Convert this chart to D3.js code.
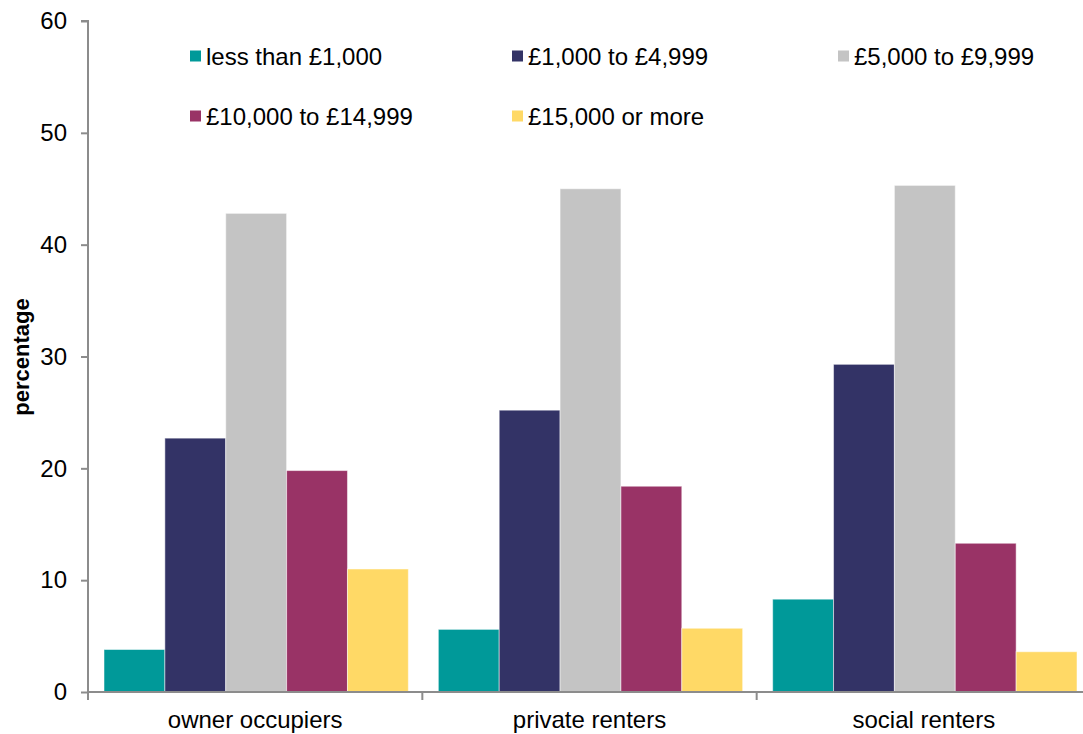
<!DOCTYPE html>
<html>
<head>
<meta charset="utf-8">
<script src="https://cdn.jsdelivr.net/npm/d3@7"></script>
<style>
  body { margin: 0; background: #fff; }
  svg { display: block; font-family: "Liberation Sans", Arial, sans-serif; }
</style>
</head>
<body>
<svg id="chart" width="1083" height="734"></svg>
<script>
// tenure groups along the x axis
var tenures = ["owner occupiers", "private renters", "social renters"];
// income bands (legend / series)
var bands = ["less than £1,000", "£1,000 to £4,999", "£5,000 to £9,999", "£10,000 to £14,999", "£15,000 or more"];
var bandColors = ["#009999", "#333366", "#c4c4c4", "#993366", "#ffd966"];

// percentages, one array per tenure, in band order
var ownerValues   = [3.8, 22.7, 42.8, 19.8, 11.0];
var privateValues = [5.6, 25.2, 45.0, 18.4, 5.7];
var socialValues  = [8.3, 29.3, 45.3, 13.3, 3.6];
var yTicks = [0, 10, 20, 30, 40, 50, 60];

var seriesByTenure = [ownerValues, privateValues, socialValues];

var svg = d3.select("#chart");
var plotLeft = 88, plotBottom = 692, plotTop = 21, plotRight = 1091;

var y = d3.scaleLinear().domain([0, 60]).range([plotBottom, plotTop]);
var x0 = d3.scaleBand().domain(tenures).range([plotLeft, plotRight]);
var x1 = d3.scaleBand().domain(bands).range([16, x0.bandwidth() - 14]);

// bars
var groups = svg.append("g").selectAll("g")
  .data(tenures)
  .enter().append("g")
    .attr("transform", function(d){ return "translate(" + x0(d) + ",0)"; });

groups.selectAll("rect")
  .data(function(d, i){
    return bands.map(function(b, j){ return {band: b, value: seriesByTenure[i][j], color: bandColors[j]}; });
  })
  .enter().append("rect")
    .attr("x", function(d){ return x1(d.band); })
    .attr("width", x1.bandwidth())
    .attr("y", function(d){ return y(d.value); })
    .attr("height", function(d){ return plotBottom - y(d.value); })
    .attr("fill", function(d){ return d.color; })
    .attr("stroke", "#ffffff")
    .attr("stroke-opacity", 0.5)
    .attr("stroke-width", 1);

// y axis
var yAxis = svg.append("g")
  .attr("transform", "translate(" + plotLeft + ",0)")
  .call(d3.axisLeft(y).tickValues(yTicks).tickSize(7).tickPadding(14));
yAxis.select(".domain").attr("stroke", "#8c8c8c").attr("stroke-width", 2).attr("d", "M-7," + plotTop + "H0V" + plotBottom);
yAxis.selectAll(".tick line").attr("stroke", "#8c8c8c").attr("stroke-width", 2);
yAxis.selectAll(".tick text").attr("font-size", 24).attr("fill", "#000").attr("font-family", "Liberation Sans, Arial, sans-serif");

// x axis: ticks on group boundaries, labels centred
var xAxis = svg.append("g").attr("transform", "translate(0," + plotBottom + ")");
xAxis.append("line")
  .attr("x1", plotLeft).attr("x2", plotRight)
  .attr("stroke", "#8c8c8c").attr("stroke-width", 2);
xAxis.selectAll("line.tk")
  .data(tenures)
  .enter().append("line")
    .attr("class", "tk")
    .attr("x1", function(d){ return x0(d); }).attr("x2", function(d){ return x0(d); })
    .attr("y1", 0).attr("y2", 8)
    .attr("stroke", "#8c8c8c").attr("stroke-width", 2);
xAxis.selectAll("text")
  .data(tenures)
  .enter().append("text")
    .attr("x", function(d){ return x0(d) + x0.bandwidth() / 2; })
    .attr("y", 36)
    .attr("text-anchor", "middle")
    .attr("font-size", 24)
    .text(function(d){ return d; });

// y label
svg.append("text")
  .attr("transform", "translate(29,357) rotate(-90)")
  .attr("text-anchor", "middle")
  .attr("font-size", 22)
  .attr("font-weight", "bold")
  .text("percentage");

// legend, 3 columns
var legendX = [190, 512, 838];
var legendY = [56, 116];
var legend = svg.append("g").selectAll("g")
  .data(bands)
  .enter().append("g")
    .attr("transform", function(d, i){
      return "translate(" + legendX[i % 3] + "," + legendY[Math.floor(i / 3)] + ")";
    });
legend.append("rect")
  .attr("x", 0).attr("y", -5.5)
  .attr("width", 11).attr("height", 11)
  .attr("fill", function(d, i){ return bandColors[i]; });
legend.append("text")
  .attr("x", 16).attr("y", 8.5)
  .attr("font-size", 24)
  .text(function(d){ return d; });
</script>
</body>
</html>
